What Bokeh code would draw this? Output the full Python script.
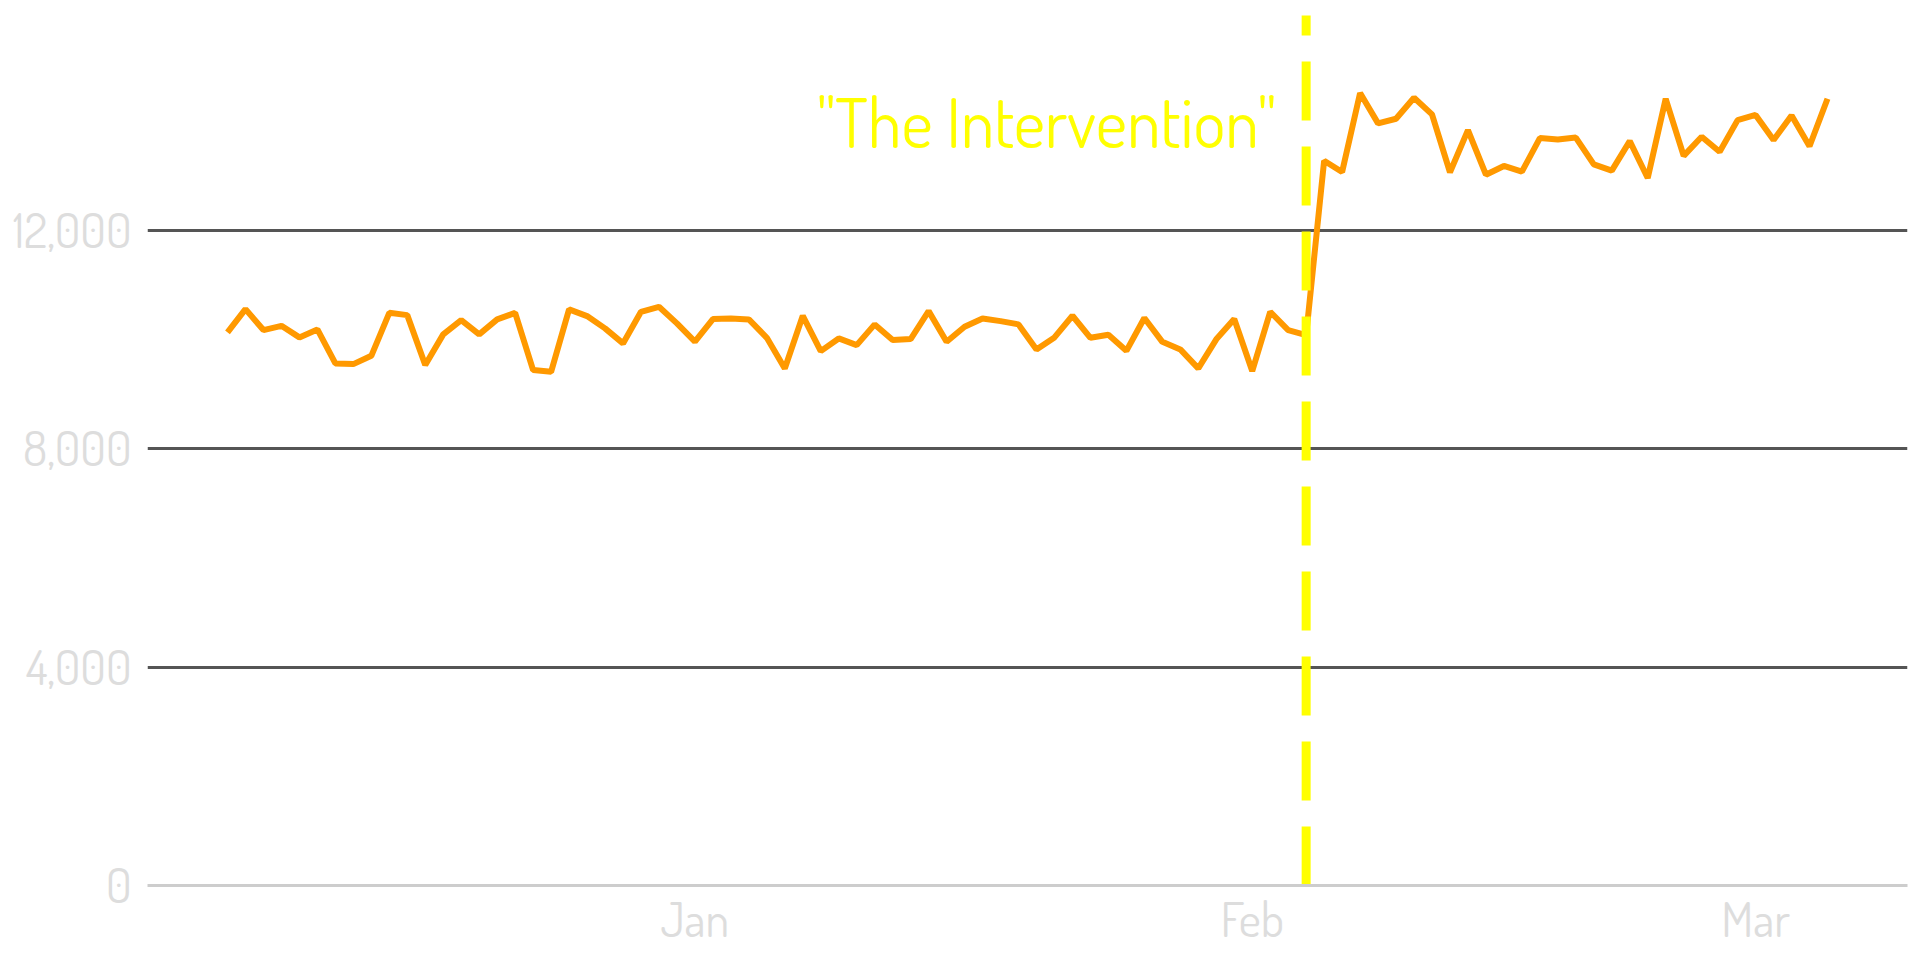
import pandas as pd
from bokeh.plotting import figure
from bokeh.models import (FixedTicker, NumeralTickFormatter, MonthsTicker,
                          DatetimeTickFormatter, Range1d)
from bokeh.embed import file_html
from bokeh.resources import INLINE
from bokeh.core.properties import value

# ---- data ----
START_DATE = "2018-12-06"
daily_values = [
    10127, 10554, 10170, 10248, 10036, 10182, 9560, 9547, 9699, 10486,
    10444, 9529, 10091, 10352, 10091, 10365, 10486, 9437, 9406, 10548,
    10426, 10201, 9926, 10505, 10596, 10292,
    9960, 10371, 10383, 10365, 10029, 9468, 10432, 9785, 10017, 9895,
    10274, 9987, 10005, 10517, 9955, 10230, 10383, 10334, 10274, 9816,
    10036, 10432, 10029, 10085, 9790, 10390, 9955, 9816, 9468, 10000,
    10371,
    9419, 10505, 10170, 10078, 13270, 13065, 14510, 13955, 14040, 14425,
    14120, 13060, 13830, 13015, 13175, 13070, 13685, 13658, 13695, 13205,
    13090, 13630, 12955, 14405, 13360, 13710, 13435, 14014,
    14110, 13650, 14100, 13535, 14405,
]
dates = pd.date_range(START_DATE, periods=len(daily_values), freq="D")

INTERVENTION_DATE = pd.Timestamp("2019-02-04")
INTERVENTION_LABEL = '"The Intervention"'
LABEL_Y = 14000
Y_TICKS = [0, 4000, 8000, 12000]
GRID_TICKS = [4000, 8000, 12000]
Y_MAX = 15930

FONT = "'Dosis Light', Dosis"

p = figure(width=1920, height=960, x_axis_type="datetime",
           output_backend="svg", toolbar_location=None,
           min_border_left=147, min_border_right=13, min_border_top=15,
           min_border_bottom=75, background_fill_color="white",
           border_fill_color="white")
p.outline_line_color = None
p.y_range = Range1d(0, Y_MAX)

# daily series
p.line(dates, daily_values, line_color="#FF9900", line_width=6)

# intervention marker (drawn from the bottom up)
p.line([INTERVENTION_DATE, INTERVENTION_DATE], [0, 17000],
       line_color="#FFFF00", line_width=9, line_dash="59 26")

p.text(x=[INTERVENTION_DATE], y=[LABEL_Y], text=[INTERVENTION_LABEL],
       text_color="#FFFF00", text_font=value(FONT), text_font_size="68px",
       text_align="right", text_baseline="alphabetic", x_offset=-30)

# axes
p.yaxis.ticker = FixedTicker(ticks=Y_TICKS)
p.yaxis.formatter = NumeralTickFormatter(format="0,0")
p.yaxis.axis_line_color = None
p.yaxis.major_tick_line_color = None
p.yaxis.minor_tick_line_color = None
p.yaxis.major_tick_out = 0
p.yaxis.minor_tick_out = 0
p.yaxis.major_label_text_color = "#dddddd"
p.yaxis.major_label_text_font = FONT
p.yaxis.major_label_text_font_size = "48px"
p.yaxis.major_label_standoff = 16

p.xaxis.ticker = MonthsTicker(months=list(range(12)))
p.xaxis.formatter = DatetimeTickFormatter(months="%b", days="%b")
p.xaxis.axis_line_color = "#cdcdcd"
p.xaxis.axis_line_width = 3
p.xaxis.major_tick_line_color = None
p.xaxis.minor_tick_line_color = None
p.xaxis.major_tick_out = 0
p.xaxis.minor_tick_out = 0
p.xaxis.major_label_text_color = "#dddddd"
p.xaxis.major_label_text_font = FONT
p.xaxis.major_label_text_font_size = "48px"
p.xaxis.major_label_standoff = 2

p.xgrid.grid_line_color = None
p.ygrid.ticker = FixedTicker(ticks=GRID_TICKS)
p.ygrid.grid_line_color = "#555555"
p.ygrid.grid_line_width = 3

open("out.html", "w").write(file_html(p, INLINE))
